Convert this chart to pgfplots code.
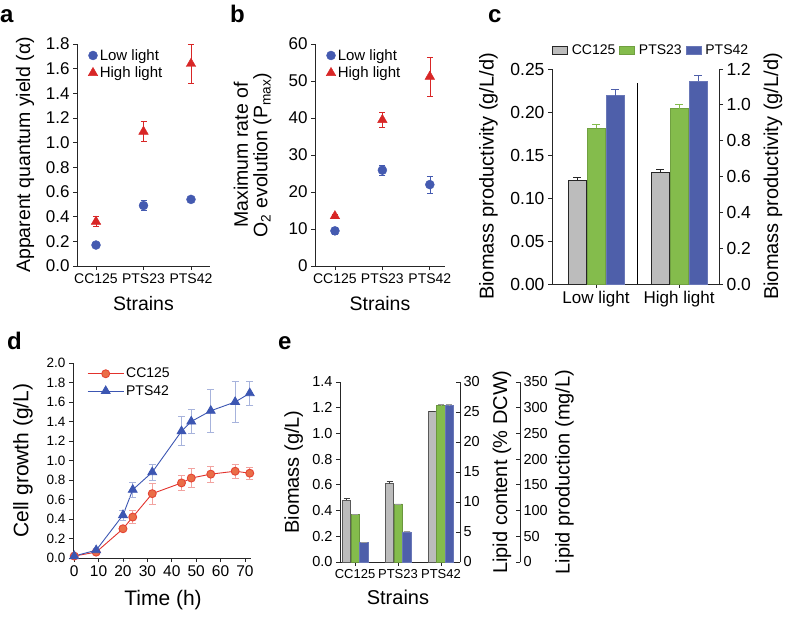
\documentclass[border=0pt]{standalone}
\usepackage{pgfplots}
\pgfplotsset{compat=1.18}
\usepackage{fontspec}
\setmainfont{Liberation Sans}

\definecolor{mblue}{RGB}{68,90,176}
\definecolor{mred}{RGB}{216,38,38}
\definecolor{bgray}{RGB}{188,188,188}
\definecolor{bgreen}{RGB}{132,188,76}
\definecolor{bblue}{RGB}{78,95,170}
\definecolor{dred}{RGB}{226,50,44}
\definecolor{dorange}{RGB}{234,110,72}
\definecolor{dblue}{RGB}{60,86,178}

\newcommand{\fs}[1]{\fontsize{#1}{#1}\selectfont}

\pgfplotsset{
  panel/.style={
    scale only axis, anchor=south west, clip=false,
    axis line style={-, line width=0.8pt, black!85},
    tick style={line width=0.8pt, black!85},
    tick align=outside, major tick length=4pt,
    /pgf/number format/assume math mode=true,
    enlargelimits=false,
  },
}

\begin{document}
\begin{tikzpicture}
\useasboundingbox (0pt,0pt) rectangle (787pt,616pt);

% panel letters
\node[anchor=base west, inner sep=0pt, font=\fs{24}\bfseries] at (0pt,593pt) {a};
\node[anchor=base west, inner sep=0pt, font=\fs{24}\bfseries] at (230pt,593pt) {b};
\node[anchor=base west, inner sep=0pt, font=\fs{24}\bfseries] at (488pt,593pt) {c};
\node[anchor=base west, inner sep=0pt, font=\fs{24}\bfseries] at (7pt,266pt) {d};
\node[anchor=base west, inner sep=0pt, font=\fs{24}\bfseries] at (278pt,266pt) {e};

% ---------- panel a ----------
\begin{axis}[panel, at={(77pt,350pt)}, width=133pt, height=222pt,
  axis x line*=bottom, axis y line*=left,
  xmin=-0.4, xmax=2.4, ymin=0, ymax=1.8,
  xtick={0,1,2}, xticklabels={CC125,PTS23,PTS42},
  x tick label style={font=\fs{14}},
  ytick={0,0.2,0.4,0.6,0.8,1.0,1.2,1.4,1.6,1.8},
  y tick label style={font=\fs{17}, /pgf/number format/.cd, fixed, fixed zerofill, precision=1},
  xlabel={Strains}, ylabel={Apparent quantum yield (α)},
  label style={font=\fs{19.5}},
  xlabel style={at={(axis description cs:0.5,-0.167)}, anchor=center},
  ylabel style={at={(axis description cs:-0.39,0.5)}, anchor=center},
  legend style={at={(axis description cs:0.083,0.986)}, anchor=north west, draw=none, fill=none, inner sep=0pt, font=\fs{15}, row sep=1pt, cells={anchor=west}},
  legend image code/.code={\draw[mark repeat=2,mark phase=2,#1] plot coordinates {(0pt,0pt) (5pt,0pt) (10pt,0pt)};},
]
\addplot[only marks, mark=*, mark size=4.5pt, mark options={fill=mblue, draw=mblue},
  error bars/.cd, y dir=both, y explicit, error bar style={mblue, line width=0.6pt},
  error mark options={rotate=90, mblue, mark size=3pt, line width=0.6pt}]
  table[x=x, y=y, y error=e] {
x y e
0 0.17 0.0
1 0.49 0.04
2 0.54 0.0
};
\addlegendentry{Low light}
\addplot[only marks, mark=triangle*, mark size=5.5pt, mark options={fill=mred, draw=mred},
  error bars/.cd, y dir=both, y explicit, error bar style={mred, line width=0.6pt},
  error mark options={rotate=90, mred, mark size=3pt, line width=0.6pt}]
  table[x=x, y=y, y error=e] {
x y e
0 0.36 0.04
1 1.09 0.08
2 1.64 0.16
};
\addlegendentry{High light}
\end{axis}

% ---------- panel b ----------
\begin{axis}[panel, at={(315pt,350pt)}, width=130pt, height=222pt,
  axis x line*=bottom, axis y line*=left,
  xmin=-0.42, xmax=2.32, ymin=0, ymax=60,
  xtick={0,1,2}, xticklabels={CC125,PTS23,PTS42},
  x tick label style={font=\fs{14}},
  ytick={0,10,20,30,40,50,60},
  y tick label style={font=\fs{17}},
  xlabel={Strains}, ylabel={Maximum rate of\\O\textsubscript{2} evolution (P\textsubscript{max})},
  label style={font=\fs{19.5}},
  xlabel style={at={(axis description cs:0.5,-0.167)}, anchor=center},
  ylabel style={at={(axis description cs:-0.48,0.5)}, anchor=center, align=center},
  legend style={at={(axis description cs:0.085,0.986)}, anchor=north west, draw=none, fill=none, inner sep=0pt, font=\fs{15}, row sep=1pt, cells={anchor=west}},
  legend image code/.code={\draw[mark repeat=2,mark phase=2,#1] plot coordinates {(0pt,0pt) (5pt,0pt) (10pt,0pt)};},
]
\addplot[only marks, mark=*, mark size=4.5pt, mark options={fill=mblue, draw=mblue},
  error bars/.cd, y dir=both, y explicit, error bar style={mblue, line width=0.6pt},
  error mark options={rotate=90, mblue, mark size=3pt, line width=0.6pt}]
  table[x=x, y=y, y error=e] {
x y e
0 9.5 1.0
1 25.9 1.3
2 22.0 2.3
};
\addlegendentry{Low light}
\addplot[only marks, mark=triangle*, mark size=5.5pt, mark options={fill=mred, draw=mred},
  error bars/.cd, y dir=both, y explicit, error bar style={mred, line width=0.6pt},
  error mark options={rotate=90, mred, mark size=3pt, line width=0.6pt}]
  table[x=x, y=y, y error=e] {
x y e
0 13.5 0.5
1 39.5 2.0
2 51.2 5.3
};
\addlegendentry{High light}
\end{axis}

% ---------- panel c (left axis: low light) ----------
\begin{axis}[panel, at={(552pt,332pt)}, width=167pt, height=215pt,
  axis x line*=bottom, axis y line*=left,
  xmin=-0.53, xmax=1.48, ymin=0, ymax=0.25,
  ybar, bar width=18pt,
  xtick={0,1}, xticklabels={Low light,High light},
  x tick label style={font=\fs{17}},
  ytick={0,0.05,0.10,0.15,0.20,0.25},
  y tick label style={font=\fs{17.5}, /pgf/number format/.cd, fixed, fixed zerofill, precision=2},
  ylabel={Biomass productivity (g/L/d)},
  label style={font=\fs{20}},
  ylabel style={at={(axis description cs:-0.38,0.5)}, anchor=center},
  legend columns=3,
  legend style={at={(axis description cs:0,1.05)}, anchor=south west, draw=none, fill=none, inner sep=0pt, font=\fs{14}, column sep=2pt},
  legend image code/.code={\draw[#1] (0pt,-4pt) rectangle (15pt,4pt);},
]
\addplot[fill=bgray, draw=black!85, line width=0.6pt, bar shift=-19pt,
  error bars/.cd, y dir=plus, y explicit, error bar style={black!85, line width=0.6pt},
  error mark options={rotate=90, black!85, mark size=4pt, line width=0.6pt}]
  coordinates {(0,0.120) +- (0,0.004)};
\addlegendentry{CC125}
\addplot[fill=bgreen, draw=bgreen!85!black, line width=0.6pt, bar shift=0pt,
  error bars/.cd, y dir=plus, y explicit, error bar style={bgreen, line width=0.6pt},
  error mark options={rotate=90, bgreen, mark size=4pt, line width=0.6pt}]
  coordinates {(0,0.181) +- (0,0.005)};
\addlegendentry{PTS23}
\addplot[fill=bblue, draw=bblue!85!white, line width=0.6pt, bar shift=19pt,
  error bars/.cd, y dir=plus, y explicit, error bar style={bblue, line width=0.6pt},
  error mark options={rotate=90, bblue, mark size=4pt, line width=0.6pt}]
  coordinates {(0,0.219) +- (0,0.007)};
\addlegendentry{PTS42}
\draw[black, line width=0.8pt] (axis cs:0.5,0) -- (axis cs:0.5,0.2337);
\end{axis}

% ---------- panel c (right axis: high light) ----------
\begin{axis}[panel, at={(552pt,332pt)}, width=167pt, height=215pt,
  axis x line=none, axis y line*=right,
  xmin=-0.53, xmax=1.48, ymin=0, ymax=1.2,
  ybar, bar width=18pt,
  ytick={0,0.2,0.4,0.6,0.8,1.0,1.2},
  y tick label style={font=\fs{17.5}, /pgf/number format/.cd, fixed, fixed zerofill, precision=1},
  ylabel={Biomass productivity (g/L/d)},
  label style={font=\fs{20}},
  ylabel style={at={(axis description cs:1.323,0.5)}, anchor=center, rotate=0},
]
\addplot[fill=bgray, draw=black!85, line width=0.6pt, bar shift=-19pt,
  error bars/.cd, y dir=plus, y explicit, error bar style={black!85, line width=0.6pt},
  error mark options={rotate=90, black!85, mark size=4pt, line width=0.6pt}]
  coordinates {(1,0.623) +- (0,0.015)};
\addplot[fill=bgreen, draw=bgreen!85!black, line width=0.6pt, bar shift=0pt,
  error bars/.cd, y dir=plus, y explicit, error bar style={bgreen, line width=0.6pt},
  error mark options={rotate=90, bgreen, mark size=4pt, line width=0.6pt}]
  coordinates {(1,0.978) +- (0,0.025)};
\addplot[fill=bblue, draw=bblue!85!white, line width=0.6pt, bar shift=19pt,
  error bars/.cd, y dir=plus, y explicit, error bar style={bblue, line width=0.6pt},
  error mark options={rotate=90, bblue, mark size=4pt, line width=0.6pt}]
  coordinates {(1,1.133) +- (0,0.030)};
\end{axis}

% ---------- panel d ----------
\begin{axis}[panel, at={(73pt,58pt)}, width=178pt, height=195pt,
  axis x line*=bottom, axis y line*=left,
  xmin=-0.5, xmax=72.5, ymin=0, ymax=2.0,
  xtick={0,10,20,30,40,50,60,70},
  x tick label style={font=\fs{15.5}},
  ytick={0,0.2,0.4,0.6,0.8,1.0,1.2,1.4,1.6,1.8,2.0},
  y tick label style={font=\fs{13.5}, /pgf/number format/.cd, fixed, fixed zerofill, precision=1},
  xlabel={Time (h)}, ylabel={Cell growth (g/L)},
  label style={font=\fs{21}},
  xlabel style={at={(axis description cs:0.506,-0.215)}, anchor=center},
  ylabel style={at={(axis description cs:-0.281,0.5)}, anchor=center},
  legend style={at={(axis description cs:0.079,0.985)}, anchor=north west, draw=none, fill=none, inner sep=0pt, font=\fs{14}, row sep=2pt, cells={anchor=west}},
  legend image code/.code={\draw[mark repeat=2,mark phase=2,#1] plot coordinates {(0pt,0pt) (18pt,0pt) (36pt,0pt)};},
]
\addplot[dred, line width=0.9pt, mark=*, mark size=4pt, mark options={fill=dorange, draw=dred!70!dorange},
  error bars/.cd, y dir=both, y explicit, error bar style={dred!45, line width=0.8pt},
  error mark options={rotate=90, dred!45, mark size=3.5pt, line width=0.8pt}]
  table[x=t, y=y, y error=e] {
t y e
0 0.02 0.01
9 0.06 0.01
20 0.30 0.02
24 0.42 0.07
32 0.66 0.11
44 0.77 0.08
48 0.82 0.10
56 0.86 0.08
66 0.89 0.07
72 0.87 0.06
};
\addlegendentry{CC125}
\addplot[dblue, line width=0.9pt, mark=triangle*, mark size=5pt, mark options={fill=dblue, draw=dblue},
  error bars/.cd, y dir=both, y explicit, error bar style={dblue!45, line width=0.8pt},
  error mark options={rotate=90, dblue!45, mark size=3.5pt, line width=0.8pt}]
  table[x=t, y=y, y error=e] {
t y e
0 0.02 0.01
9 0.08 0.02
20 0.44 0.05
24 0.70 0.08
32 0.88 0.08
44 1.30 0.15
48 1.40 0.12
56 1.51 0.22
66 1.60 0.21
72 1.69 0.12
};
\addlegendentry{PTS42}
\end{axis}

% ---------- panel e: biomass ----------
\begin{axis}[panel, at={(340pt,54pt)}, width=120pt, height=180pt,
  axis x line*=bottom, axis y line*=left,
  xmin=-0.35, xmax=2.443, ymin=0, ymax=1.4,
  ybar, bar width=8.5pt,
  xtick={0,1,2}, xticklabels={CC125,PTS23,PTS42},
  x tick label style={font=\fs{13}},
  ytick={0,0.2,0.4,0.6,0.8,1.0,1.2,1.4},
  y tick label style={font=\fs{14.5}, /pgf/number format/.cd, fixed, fixed zerofill, precision=1},
  xlabel={Strains}, ylabel={Biomass (g/L)},
  label style={font=\fs{20}},
  xlabel style={at={(axis description cs:0.483,-0.194)}, anchor=center},
  ylabel style={at={(axis description cs:-0.385,0.5)}, anchor=center},
]
\addplot[fill=bgray, draw=black!65, line width=0.6pt, bar shift=-8.5pt,
  error bars/.cd, y dir=plus, y explicit, error bar style={black!75, line width=0.6pt},
  error mark options={rotate=90, black!75, mark size=3pt, line width=0.6pt}]
  table[x=x, y=y, y error=e] {
x y e
0 0.48 0.015
1 0.61 0.015
2 1.17 0.005
};
\end{axis}

% ---------- panel e: lipid content ----------
\begin{axis}[panel, at={(340pt,54pt)}, width=120pt, height=180pt,
  axis x line=none, axis y line*=right, tick align=inside,
  xmin=-0.35, xmax=2.443, ymin=0, ymax=30,
  ybar, bar width=8.5pt,
  ytick={0,5,10,15,20,25,30},
  y tick label style={font=\fs{14.5}},
  ylabel={Lipid content (\% DCW)},
  label style={font=\fs{20}},
  ylabel style={at={(axis description cs:1.35,0.5)}, anchor=center, rotate=0},
]
\addplot[fill=bgreen, draw=bgreen!80!black, line width=0.5pt, bar shift=0pt,
  error bars/.cd, y dir=plus, y explicit, error bar style={black!40, line width=0.6pt},
  error mark options={rotate=90, black!40, mark size=3pt, line width=0.6pt}]
  table[x=x, y=y, y error=e] {
x y e
0 8.0 0
1 9.7 0
2 26.1 0.15
};
\end{axis}

% ---------- panel e: lipid production ----------
\begin{axis}[panel, at={(340pt,54pt)}, width=180pt, height=180pt,
  axis x line=none, axis y line*=right, tick align=inside,
  xmin=-0.35, xmax=3.839, ymin=0, ymax=350,
  ybar, bar width=8.5pt,
  ytick={0,50,100,150,200,250,300,350},
  y tick label style={font=\fs{14.5}},
  ylabel={Lipid production (mg/L)},
  label style={font=\fs{20}},
  ylabel style={at={(axis description cs:1.247,0.5)}, anchor=center, rotate=0},
]
\addplot[fill=bblue, draw=bblue!85!white, line width=0.5pt, bar shift=8.5pt,
  error bars/.cd, y dir=plus, y explicit, error bar style={black!40, line width=0.6pt},
  error mark options={rotate=90, black!40, mark size=3pt, line width=0.6pt}]
  table[x=x, y=y, y error=e] {
x y e
0 37.5 0
1 58.8 0
2 304.5 1.5
};
\end{axis}
\end{tikzpicture}
\end{document}
